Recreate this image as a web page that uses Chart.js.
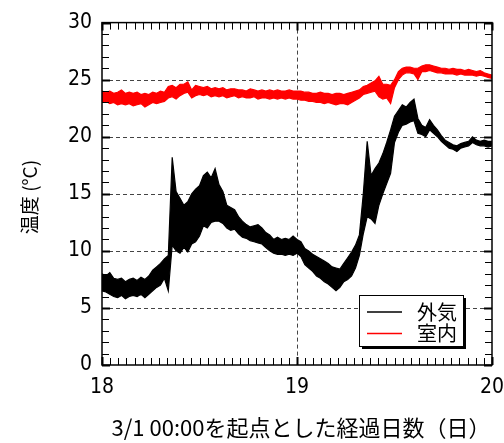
<!DOCTYPE html>
<html>
<head>
<meta charset="utf-8">
<script src="https://cdn.jsdelivr.net/npm/chart.js@4"></script>
<style>
  html, body { margin: 0; padding: 0; background: #fff; }
  #wrap { width: 504px; height: 443px; }
</style>
</head>
<body>
<div id="wrap"><canvas id="myChart" width="504" height="443"></canvas></div>
<script>
// 時刻（3/1 00:00 からの経過日数）は 0.02 日刻み
let t0 = 18, dt = 0.02;

// 外気：各時刻でのノイズ帯の上端・下端
let outHi = [8.0,7.8,8.1,7.6,7.5,7.6,7.3,7.5,7.6,7.4,
  7.7,7.5,7.8,8.3,8.6,8.9,9.3,9.6,18.2,15.2,
  14.6,14.0,14.3,15.0,15.4,15.7,16.6,16.9,16.4,17.2,
  15.8,15.2,14.0,13.8,13.6,13.0,12.6,12.3,12.1,12.2,
  12.3,12.0,11.6,11.4,11.0,11.2,11.0,11.1,11.0,11.3,
  11.0,10.8,10.2,10.0,9.7,9.5,9.3,9.1,8.9,8.6,
  8.5,8.4,8.9,9.4,9.9,10.5,11.4,15.0,19.6,16.6,
  17.2,17.7,18.5,19.5,20.6,21.8,22.3,22.8,22.6,23.0,
  23.3,21.6,21.0,20.8,21.5,21.0,20.6,20.1,19.7,19.5,
  19.3,19.2,19.4,19.5,19.6,20.0,19.7,19.6,19.7,19.6,19.6];
let outLo = [6.5,6.4,6.2,6.0,5.9,6.1,5.8,6.0,6.1,6.0,
  6.2,5.9,6.2,6.5,6.8,7.0,7.6,6.5,10.5,10.0,
  9.8,10.3,9.9,10.6,10.8,11.3,12.2,12.0,12.5,12.6,
  12.6,12.4,12.0,11.8,11.9,11.5,11.2,11.1,10.9,10.8,
  10.7,10.6,10.3,10.0,9.8,9.7,9.7,9.6,9.7,9.6,
  9.8,9.5,8.8,8.5,8.2,7.8,7.6,7.3,7.1,6.8,
  6.5,6.8,7.3,7.5,7.8,8.5,9.6,11.5,13.0,12.8,
  12.4,14.0,15.0,15.9,16.8,19.5,20.4,21.0,21.1,21.3,
  21.4,20.3,20.2,20.0,20.6,20.3,20.0,19.6,19.3,19.0,
  18.9,18.7,19.0,19.1,19.2,19.5,19.3,19.2,19.2,19.1,19.2];

// 室内
let inHi = [24.0,23.9,24.0,23.8,23.9,24.1,23.8,23.9,23.8,23.9,
  23.7,23.8,23.7,23.9,23.8,24.0,23.9,24.4,24.5,24.3,
  24.6,24.6,24.8,24.1,24.5,24.4,24.3,24.4,24.2,24.3,
  24.2,24.3,24.1,24.2,24.2,24.1,24.1,24.0,24.2,24.1,
  24.0,24.1,24.0,24.1,24.0,24.1,24.0,24.0,24.1,24.0,
  24.0,24.0,23.9,23.9,23.8,23.8,23.9,23.8,23.8,23.7,
  23.8,23.8,23.7,23.8,23.9,24.0,24.1,24.4,24.5,24.7,
  24.9,25.3,24.6,24.6,24.5,25.0,25.7,26.0,26.1,26.1,
  26.0,26.0,26.2,26.3,26.3,26.2,26.1,26.0,26.0,25.9,
  26.0,25.9,25.9,25.8,25.9,25.8,25.7,25.8,25.6,25.5,25.4];
let inLo = [23.0,23.1,22.9,23.0,22.8,22.9,22.8,22.9,22.7,22.8,
  22.9,22.6,22.8,23.0,22.9,23.0,23.1,23.4,23.5,23.3,
  23.6,23.8,23.9,23.4,23.6,23.7,23.6,23.7,23.5,23.6,
  23.5,23.6,23.4,23.5,23.6,23.4,23.5,23.4,23.4,23.5,
  23.3,23.4,23.4,23.3,23.4,23.3,23.4,23.3,23.4,23.3,
  23.3,23.2,23.2,23.1,23.1,23.0,23.0,22.9,23.0,22.9,
  22.8,22.9,22.9,22.8,23.0,23.2,23.4,23.7,23.8,23.9,
  24.0,23.5,23.3,23.4,22.9,24.3,25.0,25.4,25.6,25.6,
  25.5,25.0,25.7,25.7,25.8,25.7,25.6,25.6,25.5,25.5,
  25.5,25.4,25.5,25.4,25.4,25.4,25.3,25.4,25.3,25.2,25.1];

let labels = ["外気","室内"];
let colors = ["#000000","#ff0000"];
let xTicks = [18,19,20];
let yTicks = [0,5,10,15,20,25,30];

let jpFont = "'Noto Sans CJK JP', sans-serif";
let numFont = "'Liberation Sans Narrow', 'DejaVu Sans Condensed', sans-serif";

const toPts = (arr) => arr.map((v, i) => ({x: t0 + dt * i, y: v}));

// 枠・目盛り・グリッド・凡例
const framePlugin = {
  id: "frame",
  beforeDatasetsDraw(chart) {
    const {ctx, chartArea: a, scales: {x, y}} = chart;
    ctx.save();
    ctx.strokeStyle = "#444";
    ctx.lineWidth = 1;
    ctx.setLineDash([4, 3]);
    yTicks.slice(1, -1).forEach((v) => {
      let py = Math.round(y.getPixelForValue(v)) + 0.5;
      ctx.beginPath(); ctx.moveTo(a.left, py); ctx.lineTo(a.right, py); ctx.stroke();
    });
    xTicks.slice(1, -1).forEach((v) => {
      let px = Math.round(x.getPixelForValue(v)) + 0.5;
      ctx.beginPath(); ctx.moveTo(px, a.top); ctx.lineTo(px, a.bottom); ctx.stroke();
    });
    ctx.restore();
  },
  afterDraw(chart) {
    const {ctx, chartArea: a, scales: {x, y}} = chart;
    ctx.save();
    ctx.strokeStyle = "#000";
    // y 目盛り（1度ごと）
    for (let v = 0; v <= 30; v++) {
      let py = Math.round(y.getPixelForValue(v)) + 0.5;
      let major = v % 5 == 0;
      ctx.lineWidth = major ? 2 : 1;
      let len = major ? 8 : 7;
      ctx.beginPath();
      ctx.moveTo(a.left, py); ctx.lineTo(a.left + len, py);
      ctx.moveTo(a.right, py); ctx.lineTo(a.right - len, py);
      ctx.stroke();
    }
    // x 目盛り（1時間ごと）
    for (let h = 0; h <= 48; h++) {
      let px = Math.round(x.getPixelForValue(18 + h / 24)) + 0.5;
      let major = h % 24 == 0;
      ctx.lineWidth = major ? 2 : 1;
      let len = major ? 8 : 7;
      ctx.beginPath();
      ctx.moveTo(px, a.bottom); ctx.lineTo(px, a.bottom - len);
      ctx.moveTo(px, a.top); ctx.lineTo(px, a.top + len);
      ctx.stroke();
    }
    ctx.lineWidth = 1.5;
    ctx.strokeRect(a.left, a.top, a.right - a.left, a.bottom - a.top);

    // 軸タイトル
    ctx.fillStyle = "#000";
    ctx.font = "22px " + jpFont;
    ctx.textAlign = "center";
    ctx.textBaseline = "middle";
    ctx.fillText("3/1 00:00を起点とした経過日数（日）", 301, 428);
    ctx.font = "19px " + jpFont;
    ctx.translate(30, 197);
    ctx.rotate(-Math.PI / 2);
    ctx.fillText("温度 (°C)", 0, 0);
    ctx.restore();

    // 凡例
    ctx.save();
    let bx = 359, by = 295, bw = 104, bh = 51;
    ctx.fillStyle = "#000";
    ctx.fillRect(bx + 3, by + 3, bw, bh);
    ctx.fillStyle = "#fff";
    ctx.fillRect(bx, by, bw, bh);
    ctx.strokeStyle = "#000";
    ctx.lineWidth = 1;
    ctx.strokeRect(bx + 0.5, by + 0.5, bw, bh);
    ctx.font = "20px " + jpFont;
    ctx.textAlign = "left";
    ctx.textBaseline = "middle";
    chart.data.datasets.filter((ds) => ds.inLegend).forEach((ds, i) => {
      let ly = by + 17 + i * 21.5;
      ctx.strokeStyle = ds.borderColor;
      ctx.lineWidth = 1.5;
      ctx.beginPath(); ctx.moveTo(bx + 8, ly); ctx.lineTo(bx + 43, ly); ctx.stroke();
      ctx.fillStyle = "#000";
      ctx.fillText(ds.label, bx + 58, ly);
    });
    ctx.restore();
  }
};

// 各系列：上端の線 + 下端の線（上端との間を塗りつぶしてノイズ帯にする）
const bandSets = (label, color, hi, lo) => [
  {label: label, inLegend: true, data: toPts(hi), borderColor: color, borderWidth: 1.2, fill: false},
  {label: label + "_lo", data: toPts(lo), borderColor: color, borderWidth: 1.2,
   backgroundColor: color, fill: "-1"}
];

const data = {
  datasets: [
    ...bandSets(labels[0], colors[0], outHi, outLo),
    ...bandSets(labels[1], colors[1], inHi, inLo)
  ]
};

const config = {
  type: "line",
  data: data,
  options: {
    responsive: false,
    animation: false,
    events: [],
    elements: {point: {radius: 0}, line: {tension: 0}},
    layout: {padding: {top: 21, right: 0, left: 0, bottom: 0}},
    plugins: {legend: {display: false}, tooltip: {enabled: false}},
    scales: {
      x: {
        type: "linear", min: 18, max: 20,
        afterBuildTicks: (s) => { s.ticks = xTicks.map((v) => ({value: v})); },
        afterFit: (s) => { s.height = 78; s.paddingRight = 12; s.paddingLeft = 0; },
        grid: {display: false, drawTicks: false},
        border: {display: false},
        ticks: {color: "#000", padding: 10, maxRotation: 0, font: {family: numFont, size: 21}}
      },
      y: {
        min: 0, max: 30,
        afterBuildTicks: (s) => { s.ticks = yTicks.map((v) => ({value: v})); },
        afterFit: (s) => { s.width = 102; },
        grid: {display: false, drawTicks: false},
        border: {display: false},
        ticks: {color: "#000", padding: 10, font: {family: numFont, size: 21}}
      }
    }
  },
  plugins: [framePlugin]
};

let myChart = new Chart(document.getElementById("myChart"), config);
</script>
</body>
</html>
